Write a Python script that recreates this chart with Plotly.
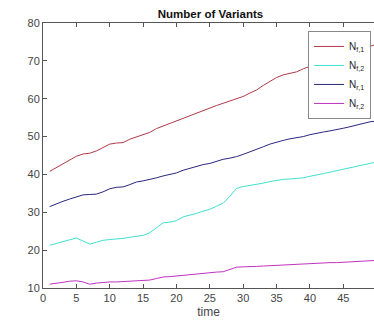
import plotly.graph_objects as go

# time steps
time = list(range(1, 51))

# number of variants per population
n_f1 = [40.8, 41.8, 42.8, 43.8, 44.8, 45.4, 45.6, 46.2, 47.1, 48.0,
        48.3, 48.4, 49.3, 49.9, 50.5, 51.1, 52.1, 52.8, 53.3, 54.0,
        54.9, 55.6, 56.1, 56.9, 57.6, 58.2, 58.8, 59.4, 59.9, 60.6,
        61.5, 62.3, 63.5, 64.6, 65.6, 66.3, 66.8, 67.1, 67.9, 68.6,
        69.3, 69.9, 70.5, 71.0, 71.6, 72.2, 72.8, 73.4, 73.9, 74.4]
n_f2 = [21.3, 21.8, 22.3, 22.8, 23.2, 22.4, 21.6, 22.1, 22.6, 22.8,
        22.9, 23.1, 23.4, 23.7, 23.9, 24.6, 25.9, 27.2, 27.4, 27.8,
        28.8, 29.2, 29.7, 30.3, 30.8, 31.6, 32.4, 34.2, 36.3, 36.8,
        37.1, 37.3, 37.7, 38.1, 38.5, 38.7, 38.8, 38.9, 39.1, 39.5,
        39.8, 40.2, 40.6, 41.0, 41.3, 41.8, 42.3, 42.6, 43.0, 43.3]
n_r1 = [31.5, 32.3, 32.9, 33.5, 34.0, 34.6, 34.7, 34.8, 35.4, 36.2,
        36.6, 36.7, 37.3, 38.0, 38.3, 38.6, 39.1, 39.6, 40.0, 40.4,
        41.1, 41.6, 42.3, 42.6, 42.9, 43.5, 44.0, 44.3, 44.7, 45.3,
        45.9, 46.6, 47.3, 48.0, 48.6, 49.0, 49.4, 49.7, 50.0, 50.5,
        50.9, 51.2, 51.5, 51.8, 52.2, 52.6, 53.1, 53.6, 53.9, 54.1]
n_r2 = [11.0, 11.2, 11.5, 11.8, 11.9, 11.6, 11.0, 11.3, 11.5, 11.6,
        11.6, 11.7, 11.8, 11.9, 11.9, 12.1, 12.5, 12.9, 13.0, 13.2,
        13.4, 13.5, 13.6, 13.8, 14.0, 14.2, 14.3, 14.8, 15.5, 15.6,
        15.6, 15.7, 15.8, 15.9, 16.0, 16.1, 16.1, 16.2, 16.3, 16.4,
        16.5, 16.6, 16.7, 16.7, 16.8, 16.9, 17.0, 17.1, 17.2, 17.3]

names = ["N<sub>f,1</sub>", "N<sub>f,2</sub>", "N<sub>r,1</sub>", "N<sub>r,2</sub>"]
colors = ["#b03a48", "#40e0d0", "#28287e", "#c032c0"]
x_ticks = [0, 5, 10, 15, 20, 25, 30, 35, 40, 45]
y_ticks = [10, 20, 30, 40, 50, 60, 70, 80]

fig = go.Figure()
for series, name, color in zip([n_f1, n_f2, n_r1, n_r2], names, colors):
    fig.add_trace(go.Scatter(x=time, y=series, mode="lines", name=name,
                             line=dict(color=color, width=1)))

axis_common = dict(
    showgrid=False, zeroline=False, showline=True, linecolor="#555555",
    linewidth=1, ticks="inside", ticklen=4, tickcolor="#555555",
    tickfont=dict(family="Liberation Sans, Arial", size=11, color="#444444"),
)

fig.update_layout(
    width=374, height=323,
    margin=dict(l=43, r=0, t=23, b=35),
    paper_bgcolor="white", plot_bgcolor="white",
    font=dict(family="Liberation Sans, Arial", size=11, color="#222222"),
    title=dict(text="<b>Number of Variants</b>", x=(210.5 / 374), xanchor="center",
               y=1 - 18 / 323, yanchor="bottom",
               font=dict(family="Liberation Sans, Arial", size=11.5, color="#111111")),
    xaxis=dict(range=[0, 49.6], tickvals=x_ticks, mirror="ticks",
               title=dict(text="time", standoff=4,
                          font=dict(family="Liberation Sans, Arial", size=12, color="#444444")),
               **axis_common),
    yaxis=dict(range=[10, 80], tickvals=y_ticks, mirror=False, **axis_common),
    legend=dict(x=0.991, y=0.970, xanchor="right", yanchor="top",
                bgcolor="white", bordercolor="#888888", borderwidth=1,
                font=dict(family="Liberation Sans, Arial", size=10, color="#222222"),
                tracegroupgap=0, itemwidth=30),
    showlegend=True,
)

fig.write_html("out.html")
